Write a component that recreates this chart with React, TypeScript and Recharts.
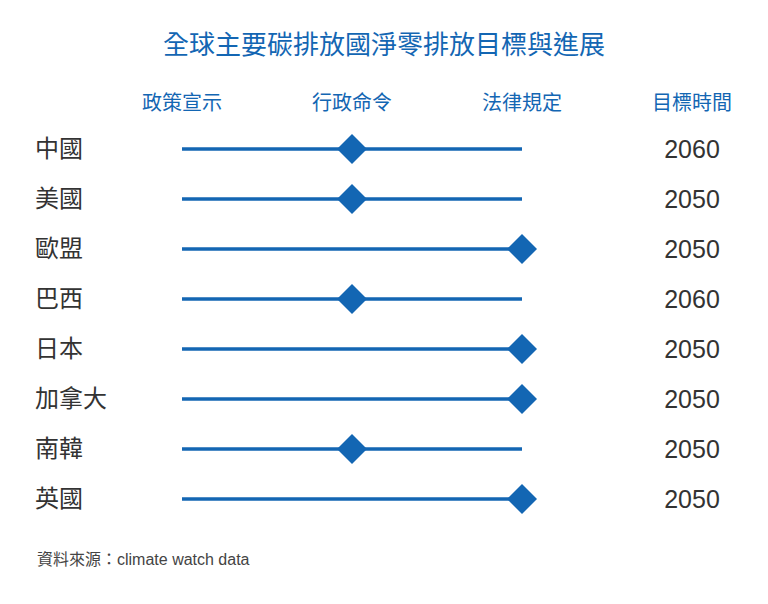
import { ComposedChart, Line, XAxis, YAxis, ReferenceLine } from 'recharts';

const countries = ['中國', '美國', '歐盟', '巴西', '日本', '加拿大', '南韓', '英國'];
// 0 = 政策宣示, 1 = 行政命令, 2 = 法律規定
const stageReached = [1, 1, 2, 1, 2, 2, 1, 2];
const targetYears = [2060, 2050, 2050, 2060, 2050, 2050, 2050, 2050];
const columnHeaders = ['政策宣示', '行政命令', '法律規定', '目標時間'];
const stageCount = 3;

const BLUE = '#1366b3';
const FONT = '"Liberation Sans", "Noto Sans CJK TC", sans-serif';

const data = countries.map((name, i) => ({
  name,
  stage: stageReached[i],
  year: targetYears[i],
}));

const HeaderTick = ({ x, y, payload }: any) => (
  <text x={x} y={y - 12} textAnchor="middle" fill={BLUE} fontSize={20} fontFamily={FONT}>
    {columnHeaders[payload.value]}
  </text>
);

const CountryTick = ({ y, payload }: any) => (
  <text x={35} y={y} dy={8} textAnchor="start" fill="#333" fontSize={24} fontFamily={FONT}>
    {payload.value}
  </text>
);

const YearTick = ({ x, y, payload }: any) => {
  const row = data.find((d) => d.name === payload.value);
  return (
    <text x={x - 2} y={y} dy={9} textAnchor="middle" fill="#333" fontSize={25} fontFamily={FONT}>
      {row ? row.year : ''}
    </text>
  );
};

const Diamond = ({ cx, cy }: any) => {
  if (cx == null || cy == null) return null;
  const h = 15;
  return (
    <path
      d={`M${cx},${cy - h} L${cx + h},${cy} L${cx},${cy + h} L${cx - h},${cy} Z`}
      fill={BLUE}
    />
  );
};

export default function App() {
  return (
    <div
      style={{
        position: 'absolute',
        left: 0,
        top: 0,
        width: 768,
        height: 604,
        background: '#fff',
        fontFamily: FONT,
      }}
    >
      <div
        style={{
          position: 'absolute',
          top: 28,
          left: 0,
          width: 768,
          textAlign: 'center',
          color: BLUE,
          fontSize: 26,
          lineHeight: '34px',
        }}
      >
        全球主要碳排放國淨零排放目標與進展
      </div>
      <ComposedChart
        width={768}
        height={604}
        data={data}
        layout="vertical"
        margin={{ top: 84, right: 0, bottom: 80, left: 35 }}
      >
        <XAxis
          type="number"
          orientation="top"
          domain={[0, stageCount]}
          ticks={[0, 1, 2, 3]}
          interval={0}
          height={40}
          axisLine={false}
          tickLine={false}
          tickSize={0}
          tick={<HeaderTick />}
        />
        <YAxis
          yAxisId="left"
          type="category"
          scale="band"
          dataKey="name"
          width={147}
          axisLine={false}
          tickLine={false}
          tickSize={0}
          tick={<CountryTick />}
        />
        <YAxis
          yAxisId="right"
          type="category"
          scale="band"
          dataKey="name"
          orientation="right"
          width={76}
          axisLine={false}
          tickLine={false}
          tickSize={0}
          tick={<YearTick />}
        />
        {countries.map((name) => (
          <ReferenceLine
            key={name}
            yAxisId="left"
            segment={[
              { x: 0, y: name },
              { x: stageCount - 1, y: name },
            ]}
            stroke={BLUE}
            strokeWidth={3.5}
          />
        ))}
        <Line
          yAxisId="left"
          dataKey="stage"
          stroke="none"
          dot={<Diamond />}
          activeDot={false}
          isAnimationActive={false}
        />
      </ComposedChart>
      <div
        style={{
          position: 'absolute',
          top: 550,
          left: 37,
          color: '#444',
          fontSize: 16,
          lineHeight: '20px',
        }}
      >
        資料來源：climate watch data
      </div>
    </div>
  );
}
